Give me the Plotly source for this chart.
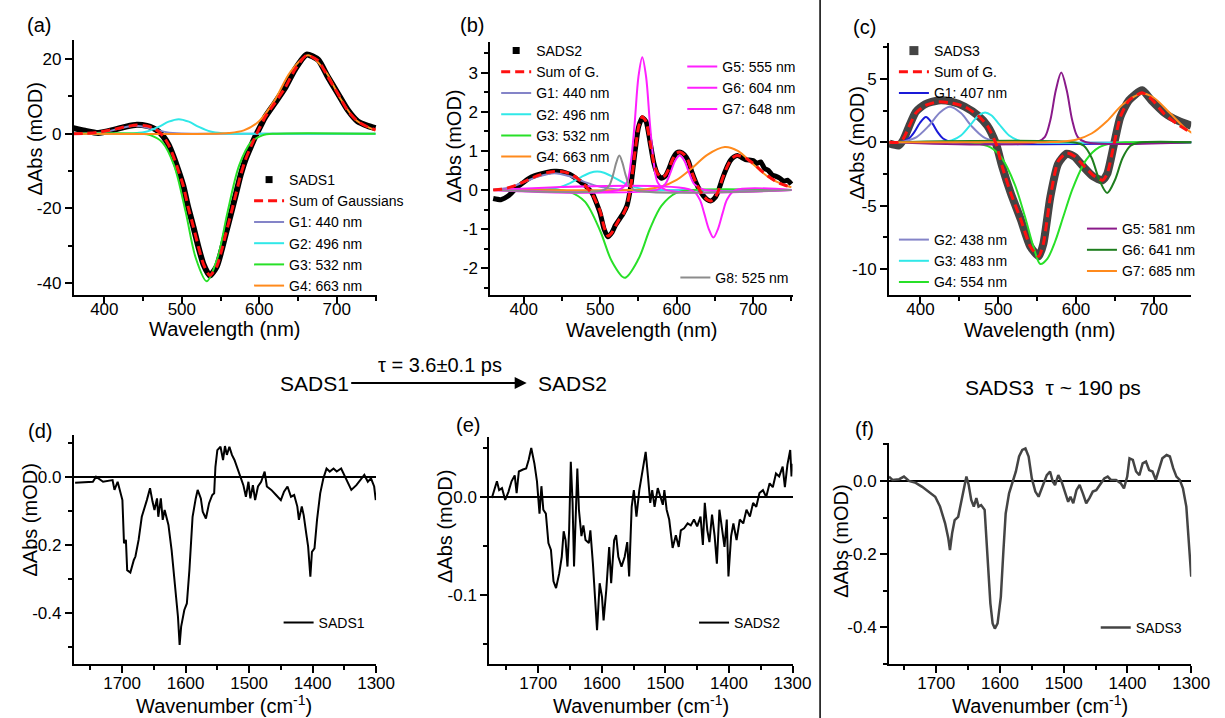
import plotly.graph_objects as go

W, H = 1225, 718
FONT = "Liberation Sans, Arial, sans-serif"

# ---------------- Panel (a): SADS1 visible ----------------
A_WL = [360, 375, 392, 413, 428, 442, 455, 463, 470, 476, 483, 489, 495, 502, 508, 515, 521, 528, 536,
        545, 551, 557, 564, 570, 576, 582, 589, 595, 601, 608, 620, 633, 646, 661, 676, 688, 701, 714,
        727, 740, 750]
A_SADS = [1.5, 0.8, 0.2, 1.1, 1.9, 2.4, 2.1, 1.5, 0.6, -0.7, -3, -6, -9.5, -14, -19.5, -25, -30, -35, -38,
          -35.6, -31.5, -26.6, -21, -16, -11, -7, -3.5, -0.7, 1.8, 4.6, 8.2, 12.2, 17.2, 21.2, 19.8, 15.4,
          10.9, 6.4, 3.3, 2.1, 1.5]
A_SUM = [0, 0.1, 0.4, 1.2, 1.9, 2.3, 2.1, 1.5, 0.6, -0.7, -3, -6, -9.5, -14, -19.5, -25, -30, -35, -38,
         -35.6, -31.5, -26.6, -21, -16, -11, -7, -3.5, -0.7, 1.8, 4.6, 8.2, 12.2, 17.2, 21.0, 19.6, 15.4,
         10.9, 6.2, 3.3, 1.8, 1.0]
A_G1_X = [360, 380, 400, 420, 440, 460, 480, 500, 520, 750]
A_G1_Y = [0, 0.05, 0.4, 1.4, 2.1, 1.4, 0.4, 0.05, 0, 0]
A_G2_X = [360, 425, 440, 455, 470, 483, 496, 509, 522, 537, 552, 570, 750]
A_G2_Y = [0, 0, 0.11, 0.58, 1.81, 3.22, 3.9, 3.22, 1.81, 0.58, 0.11, 0, 0]
A_G3_X = [360, 445, 460, 475, 490, 505, 518, 532, 546, 559, 574, 589, 604, 620, 750]
A_G3_Y = [0, 0, -0.44, -2.35, -8.5, -21, -33.3, -39.5, -33.3, -21, -8.5, -2.35, -0.44, 0, 0]
A_G4_X = [360, 540, 560, 580, 600, 620, 640, 663, 685, 705, 725, 750]
A_G4_Y = [0, 0, 0.16, 0.89, 3.4, 9.0, 16.5, 21, 16.8, 9.3, 3.6, 0.9]

# ---------------- Panel (b): SADS2 visible ----------------
B_WL = [360, 370, 380, 390, 400, 410, 420, 430, 440, 450, 460, 470, 480, 490, 500, 505, 510, 515, 520,
        525, 530, 535, 540, 545, 550, 555, 560, 565, 570, 575, 580, 585, 590, 595, 600, 605, 610, 615,
        620, 625, 630, 635, 640, 645, 650, 655, 660, 665, 670, 675, 680, 690, 700, 705, 710, 715, 720,
        725, 730, 735, 740, 745, 750]
B_SADS = [-0.22, -0.25, -0.15, 0.05, 0.2, 0.33, 0.4, 0.45, 0.48, 0.47, 0.4, 0.27, 0.12, -0.1, -0.6, -1.0,
          -1.2, -1.1, -0.9, -0.75, -0.6, -0.4, 0.1, 0.9, 1.6, 1.85, 1.75, 1.25, 0.7, 0.4, 0.3, 0.35, 0.55,
          0.8, 0.95, 0.97, 0.9, 0.75, 0.45, 0.2, 0.0, -0.15, -0.25, -0.28, -0.2, 0.0, 0.3, 0.55, 0.75, 0.85,
          0.88, 0.78, 0.75, 0.68, 0.72, 0.55, 0.5, 0.38, 0.35, 0.3, 0.22, 0.25, 0.15]
B_SUM = [0.0, 0.02, 0.06, 0.12, 0.21, 0.3, 0.38, 0.44, 0.47, 0.47, 0.42, 0.3, 0.12, -0.12, -0.55, -0.95,
         -1.18, -1.1, -0.92, -0.75, -0.62, -0.4, 0.1, 0.9, 1.6, 1.88, 1.75, 1.25, 0.7, 0.42, 0.32, 0.37,
         0.55, 0.8, 0.95, 0.97, 0.9, 0.75, 0.45, 0.2, 0.0, -0.15, -0.25, -0.28, -0.2, 0.0, 0.3, 0.55, 0.75,
         0.85, 0.88, 0.82, 0.68, 0.6, 0.5, 0.42, 0.35, 0.28, 0.22, 0.17, 0.13, 0.1, 0.08]
B_G1_X = [360, 380, 400, 420, 440, 460, 480, 500, 520, 540, 750]
B_G1_Y = [0.01, 0.06, 0.2, 0.35, 0.43, 0.35, 0.2, 0.08, 0.02, 0, 0]
B_G2_X = [360, 430, 445, 460, 475, 487, 496, 505, 517, 532, 547, 562, 580, 750]
B_G2_Y = [0, 0.014, 0.06, 0.17, 0.33, 0.44, 0.47, 0.44, 0.33, 0.17, 0.06, 0.014, 0, 0]
B_G3_X = [360, 445, 460, 480, 500, 515, 532, 550, 565, 580, 600, 620, 750]
B_G3_Y = [0, 0, -0.05, -0.3, -1.05, -1.82, -2.25, -1.77, -1.0, -0.41, -0.07, 0, 0]
B_G4_X = [360, 540, 560, 580, 600, 620, 640, 663, 680, 700, 720, 740, 750]
B_G4_Y = [0, 0, 0.02, 0.09, 0.26, 0.56, 0.9, 1.1, 1.0, 0.66, 0.33, 0.13, 0.07]
B_G5_X = [360, 525, 535, 540, 545, 550, 555, 560, 565, 570, 575, 585, 750]
B_G5_Y = [0, 0.01, 0.2, 0.7, 1.7, 2.9, 3.4, 2.9, 1.7, 0.7, 0.2, 0.01, 0]
B_G6_X = [360, 575, 585, 592, 598, 604, 610, 616, 623, 635, 750]
B_G6_Y = [0, 0.01, 0.15, 0.45, 0.75, 0.88, 0.75, 0.45, 0.15, 0.01, 0]
B_G7_X = [360, 620, 630, 636, 642, 648, 654, 660, 666, 676, 750]
B_G7_Y = [0, -0.01, -0.24, -0.6, -1.0, -1.22, -1.0, -0.6, -0.24, -0.01, 0]
B_G8_X = [360, 505, 512, 517, 521, 525, 529, 533, 538, 545, 750]
B_G8_Y = [0, 0, 0.12, 0.4, 0.7, 0.88, 0.7, 0.4, 0.12, 0, 0]

# ---------------- Panel (c): SADS3 visible ----------------
C_WL = [360, 372, 378, 385, 394, 406, 423, 440, 457, 474, 486, 497, 505, 516, 529, 541, 552, 558, 567,
        577, 588, 598, 609, 622, 634, 640, 649, 657, 668, 685, 697, 714, 731, 748]
C_SADS = [-0.1, -0.25, 0.2, 1.2, 2.4, 3.0, 3.3, 3.2, 2.8, 2.1, 1.3, -0.1, -1.9, -4.0, -6.1, -8.2, -9.0,
          -8.0, -4.3, -1.7, -0.9, -1.15, -1.9, -2.7, -3.0, -2.5, -0.1, 2.0, 3.3, 4.1, 3.3, 2.3, 1.7, 1.3]
C_SUM = [0.0, 0.0, 0.3, 1.2, 2.3, 2.9, 3.2, 3.1, 2.8, 2.1, 1.3, -0.1, -1.9, -4.0, -6.1, -8.2, -9.0,
         -8.0, -4.3, -1.5, -0.85, -1.1, -1.8, -2.6, -3.0, -2.5, -0.1, 2.0, 3.3, 3.9, 3.4, 2.2, 1.4, 0.75]
C_G1_X = [360, 375, 385, 392, 399, 407, 415, 422, 429, 440, 750]
C_G1_Y = [0, 0.03, 0.3, 0.8, 1.5, 2.0, 1.5, 0.8, 0.3, 0.03, 0]
C_G2_X = [360, 380, 395, 410, 425, 438, 452, 466, 481, 496, 512, 750]
C_G2_Y = [0, 0.09, 0.41, 1.25, 2.35, 2.8, 2.3, 1.25, 0.41, 0.09, 0.01, 0]
C_G3_X = [360, 428, 440, 452, 465, 475, 483, 491, 501, 514, 526, 540, 750]
C_G3_Y = [0, 0.02, 0.14, 0.53, 1.43, 2.13, 2.35, 2.13, 1.43, 0.53, 0.14, 0.02, 0]
C_G4_X = [360, 450, 470, 490, 504, 521, 534, 546, 554, 563, 573, 584, 596, 613, 630, 648, 665, 750]
C_G4_Y = [0, 0, -0.05, -0.4, -1.2, -3.3, -5.8, -8.4, -9.6, -9.2, -7.85, -5.8, -3.6, -1.39, -0.39, -0.08, 0, 0]
C_G5_X = [360, 550, 560, 567, 574, 581, 588, 595, 602, 612, 750]
C_G5_Y = [0, 0.02, 0.43, 1.76, 4.1, 5.5, 4.1, 1.76, 0.43, 0.02, 0]
C_G6_X = [360, 600, 610, 620, 630, 640, 650, 660, 670, 680, 750]
C_G6_Y = [0, -0.035, -0.28, -1.22, -2.98, -4.0, -2.98, -1.22, -0.28, -0.035, 0]
C_G7_X = [360, 560, 580, 600, 620, 640, 660, 685, 700, 720, 740, 750]
C_G7_Y = [0, 0.01, 0.04, 0.2, 0.69, 1.68, 2.98, 3.85, 3.51, 2.34, 1.12, 0.69]

# ---------------- Panel (d): SADS1 IR ----------------
D_WN = [1774, 1746, 1741, 1730, 1715, 1712, 1707, 1702, 1699.5, 1697, 1694, 1692, 1687, 1681.5, 1679, 1674,
        1669, 1661, 1656, 1652, 1649, 1645, 1643, 1639, 1636, 1633, 1627, 1622, 1617, 1612, 1609.4, 1607,
        1602, 1598, 1594, 1589, 1584, 1581, 1576, 1573, 1568, 1563, 1558, 1555, 1553, 1550, 1545, 1541,
        1538, 1535, 1531, 1527, 1523, 1519, 1514, 1509, 1505, 1501, 1498, 1494, 1490.5, 1486, 1481,
        1475.5, 1472, 1465, 1457.5, 1450, 1445, 1439.5, 1434, 1429, 1424, 1421.5, 1417, 1414, 1410, 1407,
        1403.5, 1401, 1397, 1393, 1388, 1383, 1378, 1373, 1367, 1362, 1355, 1349, 1344, 1339, 1331, 1324,
        1318.5, 1313, 1308, 1303, 1300.5]
D_DA = [-0.017, -0.014, 0.001, -0.014, -0.009, -0.038, -0.014, -0.048, -0.068, -0.195, -0.185, -0.274,
        -0.281, -0.244, -0.234, -0.185, -0.117, -0.068, -0.033, -0.073, -0.097, -0.063, -0.117, -0.063,
        -0.126, -0.097, -0.141, -0.215, -0.313, -0.411, -0.494, -0.44, -0.391, -0.372, -0.274, -0.117,
        -0.063, -0.038, -0.063, -0.102, -0.122, -0.077, -0.053, -0.048, 0.030, 0.079, 0.089, 0.050, 0.091,
        0.065, 0.089, 0.065, 0.050, 0.030, 0.001, -0.024, -0.058, -0.014, -0.063, -0.024, -0.068, -0.028,
        -0.014, 0.016, -0.028, -0.038, -0.053, -0.068, -0.043, -0.028, -0.058, -0.053, -0.087, -0.126,
        -0.087, -0.112, -0.166, -0.205, -0.293, -0.220, -0.210, -0.126, -0.048, -0.004, 0.025, 0.016,
        0.025, 0.016, 0.025, 0.001, -0.019, -0.038, -0.024, -0.009, 0.006, -0.014, -0.004, -0.028, -0.068]

# ---------------- Panel (e): SADS2 IR ----------------
E_WN = [1773, 1765, 1761.5, 1757, 1752, 1747, 1742, 1737, 1734, 1730.5, 1724, 1719, 1715, 1711, 1706, 1702,
        1698, 1695, 1692, 1688, 1684, 1680, 1676, 1672, 1667, 1663, 1660, 1657, 1654, 1651.4, 1648.8, 1646,
        1643.7, 1641, 1638.5, 1636, 1632, 1629, 1625.6, 1620.4, 1618, 1614, 1610, 1607.5, 1603.4, 1599.7,
        1597.2, 1593, 1588.4, 1585.3, 1580.6, 1577.5, 1574, 1569, 1564, 1560, 1557, 1553, 1549.6, 1545.5,
        1541, 1537.7, 1535, 1531, 1527.4, 1523.8, 1520.7, 1517, 1512, 1508, 1504, 1501.6, 1498, 1494,
        1488.6, 1483.5, 1479, 1475.7, 1470.5, 1465, 1460, 1455, 1450, 1444.7, 1441, 1438, 1434, 1430.7,
        1426.6, 1422.5, 1419, 1415, 1411, 1407, 1403.4, 1400.8, 1396.6, 1393, 1388, 1383, 1377.5, 1372.4,
        1367, 1362, 1357, 1352, 1346.5, 1341.4, 1336, 1331, 1326, 1321, 1315.5, 1312, 1308, 1303.6, 1301.6,
        1300]
E_DA = [-0.001, 0.016, 0.007, 0.009, -0.003, 0.005, 0.016, 0.022, 0.004, 0.026, 0.028, 0.029, 0.038, 0.050,
        0.034, 0.016, -0.017, 0.011, -0.013, -0.017, -0.047, -0.054, -0.086, -0.093, -0.078, -0.061, -0.035,
        -0.044, -0.071, -0.034, 0.036, -0.006, -0.071, -0.023, 0.029, -0.013, -0.040, -0.029, -0.044, -0.047,
        -0.034, -0.068, -0.115, -0.136, -0.088, -0.102, -0.126, -0.095, -0.051, -0.088, -0.044, -0.039,
        -0.061, -0.071, -0.061, -0.046, -0.081, -0.010, 0.007, -0.020, 0.007, 0.021, 0.033, 0.046, 0.021,
        -0.006, 0.007, -0.010, 0.009, 0.000, -0.008, 0.007, -0.013, -0.023, -0.052, -0.039, -0.051, -0.034,
        -0.032, -0.027, -0.029, -0.023, -0.030, -0.020, -0.049, -0.006, -0.034, -0.046, -0.018, -0.040,
        -0.068, -0.013, -0.034, -0.051, -0.023, -0.081, -0.040, -0.027, -0.044, -0.023, -0.027, -0.013,
        -0.020, -0.006, -0.010, 0.004, 0.007, 0.000, 0.014, 0.010, 0.024, 0.021, 0.031, 0.010, 0.033, 0.048,
        0.021, 0.034]

# ---------------- Panel (f): SADS3 IR ----------------
F_WN = [1774, 1768.5, 1758, 1750.5, 1742.7, 1732, 1722, 1712, 1701.5, 1694, 1686, 1681, 1678.4, 1675, 1671,
        1665.5, 1660, 1655, 1652.6, 1649, 1645, 1641, 1637, 1633.6, 1629.5, 1624, 1619, 1615, 1611.5, 1608,
        1603.7, 1598.6, 1594.5, 1591, 1585.7, 1580.6, 1575, 1570, 1565, 1560, 1555, 1550, 1544.5, 1539.4,
        1534, 1526.5, 1521.4, 1517, 1513.6, 1508.5, 1503.3, 1498, 1493, 1489.4, 1485, 1480, 1475, 1470,
        1464.7, 1459.6, 1454.4, 1449, 1444, 1436.4, 1431, 1426, 1418, 1410.7, 1405.5, 1400.4, 1396.8,
        1391.6, 1386.5, 1381.3, 1376.2, 1371, 1366, 1360.7, 1355.6, 1350.5, 1345.3, 1338.6, 1333.5, 1328.3,
        1323.2, 1318, 1313, 1307.7, 1304, 1300]
F_DA = [0.012, 0.003, 0.005, 0.012, 0.000, -0.005, -0.016, -0.029, -0.043, -0.070, -0.116, -0.157, -0.189,
        -0.143, -0.107, -0.098, -0.052, -0.002, 0.012, -0.011, -0.052, -0.070, -0.047, -0.070, -0.066,
        -0.079, -0.216, -0.335, -0.390, -0.404, -0.390, -0.317, -0.189, -0.089, -0.034, -0.002, 0.026,
        0.067, 0.085, 0.089, 0.067, 0.007, -0.029, -0.043, -0.016, 0.016, 0.026, -0.002, -0.011, 0.016,
        -0.002, -0.034, -0.057, -0.043, -0.061, -0.025, -0.011, -0.034, -0.061, -0.047, -0.029, -0.025,
        -0.011, 0.007, 0.012, 0.003, 0.003, -0.006, -0.020, 0.012, 0.062, 0.058, 0.026, 0.016, 0.048, 0.053,
        0.030, 0.026, 0.003, 0.030, 0.062, 0.071, 0.067, 0.035, 0.012, 0.003, -0.020, -0.070, -0.153, -0.262]

# ---------------- Ticks ----------------
WL_TICKS = [400, 500, 600, 700]
WN_TICKS = [1700, 1600, 1500, 1400, 1300]
A_YTICKS = [-40, -20, 0, 20]
B_YTICKS = [-2, -1, 0, 1, 2, 3]
C_YTICKS = [-10, -5, 0, 5]
D_YTICKS = [-0.4, -0.2, 0.0]
E_YTICKS = [-0.1, 0.0]
F_YTICKS = [-0.4, -0.2, 0.0]

# ---------------- Colours ----------------
C_LAV = "#8484C8"
C_CYAN = "#30E8E8"
C_GREEN = "#28E028"
C_ORANGE = "#FF8A1C"
C_MAG = "#FF20FF"
C_GREY = "#8C8C8C"
C_BLUE = "#1A1AD8"
C_PURPLE = "#8A1A8A"
C_DKGREEN = "#1E7E1E"
C_RED = "#FF1010"
C_DARK = "#444444"

fig = go.Figure()


def line(x, y, ax, color, width, name=None, legend=None, rank=None, dash=None,
         shape="spline", show=True, smoothing=0.9):
    fig.add_trace(go.Scatter(
        x=x, y=y, xaxis="x" + ax, yaxis="y" + ax, mode="lines",
        line=dict(color=color, width=width, dash=dash, shape=shape,
                  smoothing=smoothing if shape == "spline" else None),
        name=name, legend=legend, legendrank=rank, showlegend=show and name is not None,
        hoverinfo="skip"))


def marker_key(ax, name, legend, color, size):
    fig.add_trace(go.Scatter(
        x=[None], y=[None], xaxis="x" + ax, yaxis="y" + ax, mode="markers",
        marker=dict(symbol="square", size=size, color=color),
        name=name, legend=legend, legendrank=1, showlegend=True))


DASH = "9px,5px"

# (a)
line(A_WL, A_SADS, "", "black", 6, show=False, smoothing=0.6)
marker_key("", "SADS1", "legend", "black", 7)
line(A_G1_X, A_G1_Y, "", C_LAV, 2, "G1: 440 nm", "legend", 3)
line(A_G2_X, A_G2_Y, "", C_CYAN, 2, "G2: 496 nm", "legend", 4)
line(A_G3_X, A_G3_Y, "", C_GREEN, 2, "G3: 532 nm", "legend", 5)
line(A_G4_X, A_G4_Y, "", C_ORANGE, 2, "G4: 663 nm", "legend", 6)
line(A_WL, A_SUM, "", C_RED, 3, "Sum of Gaussians", "legend", 2, dash=DASH, smoothing=0.6)

# (b)
line(B_WL, B_SADS, "2", "black", 5, show=False, smoothing=0.5)
marker_key("2", "SADS2", "legend2", "black", 7)
line(B_G1_X, B_G1_Y, "2", C_LAV, 2, "G1: 440 nm", "legend2", 3)
line(B_G2_X, B_G2_Y, "2", C_CYAN, 2, "G2: 496 nm", "legend2", 4)
line(B_G3_X, B_G3_Y, "2", C_GREEN, 2, "G3: 532 nm", "legend2", 5)
line(B_G4_X, B_G4_Y, "2", C_ORANGE, 2, "G4: 663 nm", "legend2", 6)
line(B_G5_X, B_G5_Y, "2", C_MAG, 2, "G5: 555 nm", "legend3", 7)
line(B_G6_X, B_G6_Y, "2", C_MAG, 2, "G6: 604 nm", "legend3", 8)
line(B_G7_X, B_G7_Y, "2", C_MAG, 2, "G7: 648 nm", "legend3", 9)
line(B_G8_X, B_G8_Y, "2", C_GREY, 2, "G8: 525 nm", "legend4", 10)
line(B_WL, B_SUM, "2", C_RED, 3, "Sum of G.", "legend2", 2, dash=DASH, smoothing=0.5)

# (c)
line(C_WL, C_SADS, "3", C_DARK, 8, show=False, smoothing=0.6)
marker_key("3", "SADS3", "legend5", C_DARK, 9)
line(C_G1_X, C_G1_Y, "3", C_BLUE, 2, "G1: 407 nm", "legend5", 3)
line(C_G2_X, C_G2_Y, "3", C_LAV, 2, "G2: 438 nm", "legend6", 4)
line(C_G3_X, C_G3_Y, "3", C_CYAN, 2, "G3: 483 nm", "legend6", 5)
line(C_G4_X, C_G4_Y, "3", C_GREEN, 2, "G4: 554 nm", "legend6", 6)
line(C_G5_X, C_G5_Y, "3", C_PURPLE, 2, "G5: 581 nm", "legend7", 7)
line(C_G6_X, C_G6_Y, "3", C_DKGREEN, 2, "G6: 641 nm", "legend7", 8)
line(C_G7_X, C_G7_Y, "3", C_ORANGE, 2, "G7: 685 nm", "legend7", 9)
line(C_WL, C_SUM, "3", C_RED, 3, "Sum of G.", "legend5", 2, dash=DASH, smoothing=0.6)

# (d)-(f)
line(D_WN, D_DA, "4", "black", 2, "SADS1", "legend8", 1, shape="linear")
line(E_WN, E_DA, "5", "black", 2, "SADS2", "legend9", 1, shape="linear")
line(F_WN, F_DA, "6", C_DARK, 2.5, "SADS3", "legend10", 1, shape="linear")


def fmt(v):
    if isinstance(v, float):
        return f"{v:.1f}"
    return str(v)


def axis(domain, rng, anchor, tickvals, minor_dtick, zero=False, standoff=0):
    return dict(
        domain=domain, range=rng, anchor=anchor, showline=True, linecolor="black", linewidth=2,
        ticks="outside", ticklen=7, tickwidth=2, tickcolor="black", tickmode="array",
        tickvals=tickvals, ticktext=[fmt(v) for v in tickvals], showgrid=False,
        zeroline=zero, zerolinecolor="black", zerolinewidth=2, ticklabelstandoff=standoff,
        tickfont=dict(family=FONT, size=17, color="black"),
        minor=dict(ticks="outside", ticklen=4, tickwidth=2, tickcolor="black",
                   tickmode="linear", tick0=0, dtick=minor_dtick, showgrid=False),
    )


def px_x(p):
    return p / W


def px_y(p):
    return 1 - p / H


lay = dict(
    width=W, height=H, margin=dict(l=0, r=0, t=0, b=0), autosize=False,
    paper_bgcolor="white", plot_bgcolor="white", font=dict(family=FONT, color="black"),
    hovermode=False,
)

panels = [
    ("", [75, 383], [40, 295], [360.6, 752], [-43.2, 25.1], WL_TICKS, 50, A_YTICKS, 10, False, -9),
    ("2", [498, 806], [42, 295], [356.2, 752.8], [-2.69, 3.79], WL_TICKS, 50, B_YTICKS, 0.5, False, -9),
    ("3", [903, 1210], [43, 295], [359.5, 748.1], [-12.05, 7.83], WL_TICKS, 50, C_YTICKS, 2.5, False, -9),
    ("4", [75, 382], [435, 664], [1776, 1300], [-0.55, 0.1235], WN_TICKS, 50, D_YTICKS, 0.1, True, -4),
    ("5", [497, 805], [437, 664], [1777, 1300], [-0.1704, 0.0612], WN_TICKS, 50, E_YTICKS, 0.05, True, -4),
    ("6", [903, 1210], [443, 664], [1774, 1300], [-0.501, 0.104], WN_TICKS, 50, F_YTICKS, 0.1, True, -4),
]
for ax, xd, yd, xr, yr, xt, xm, yt, ym, zero, so in panels:
    xdom = [px_x(xd[0]), px_x(xd[1])]
    ydom = [px_y(yd[1]), px_y(yd[0])]
    lay["xaxis" + ax] = axis(xdom, xr, "y" + ax, xt, xm, standoff=so)
    lay["yaxis" + ax] = axis(ydom, yr, "x" + ax, yt, ym, zero)


def legend_at(left, top):
    return dict(x=px_x(left), y=px_y(top), xanchor="left", yanchor="top", bgcolor="rgba(0,0,0,0)",
                borderwidth=0, tracegroupgap=0, font=dict(family=FONT, size=14, color="black"))


legend_pos = {
    "legend": (253, 164), "legend2": (504, 35), "legend3": (693, 51), "legend4": (686, 262),
    "legend5": (908, 35), "legend6": (908, 224), "legend7": (1099, 213),
    "legend8": (283, 607), "legend9": (705, 607), "legend10": (1113, 612),
}
for k, (l, t) in legend_pos.items():
    lay[k] = legend_at(l, t)

ann = []


def text(x, y, s, size, angle=0):
    ann.append(dict(x=px_x(x), y=px_y(y), xref="paper", yref="paper", text=s, showarrow=False,
                    textangle=angle, xanchor="center", yanchor="middle",
                    font=dict(family=FONT, size=size, color="black")))


# panel labels
for x, y, s in [(40, 25, "(a)"), (479, 25, "(b)"), (878, 27, "(c)"),
                (41, 431, "(d)"), (475, 425, "(e)"), (878, 429, "(f)")]:
    text(x, y, s, 20)
# y titles
for x, y in [(36, 139), (461, 146), (871, 143), (30, 520), (452, 526), (854, 541)]:
    text(x, y, "ΔAbs (mOD)", 20, -90)
# x titles
for x, y in [(229, 329), (652, 330), (1056, 330)]:
    text(x, y, "Wavelength (nm)", 20)
for x, y in [(228, 704), (651, 704), (1056, 704)]:
    text(x, y, "Wavenumber (cm<sup>-1</sup>)", 20)
# middle scheme
text(319, 383, "SADS1", 21)
text(447, 365, "τ = 3.6±0.1 ps", 20)
text(582, 383, "SADS2", 21)
text(1070, 388, "SADS3  τ ~ 190 ps", 21)
ann.append(dict(x=px_x(535), y=px_y(383), xref="paper", yref="paper", ax=-177, ay=0, text="",
                showarrow=True, arrowhead=2, arrowsize=1.2, arrowwidth=2, arrowcolor="black"))

lay["annotations"] = ann
lay["shapes"] = [dict(type="line", xref="paper", yref="paper", x0=px_x(833), x1=px_x(833), y0=0, y1=1,
                      line=dict(color="black", width=1.5))]

fig.update_layout(**lay)
fig.write_html("out.html")
